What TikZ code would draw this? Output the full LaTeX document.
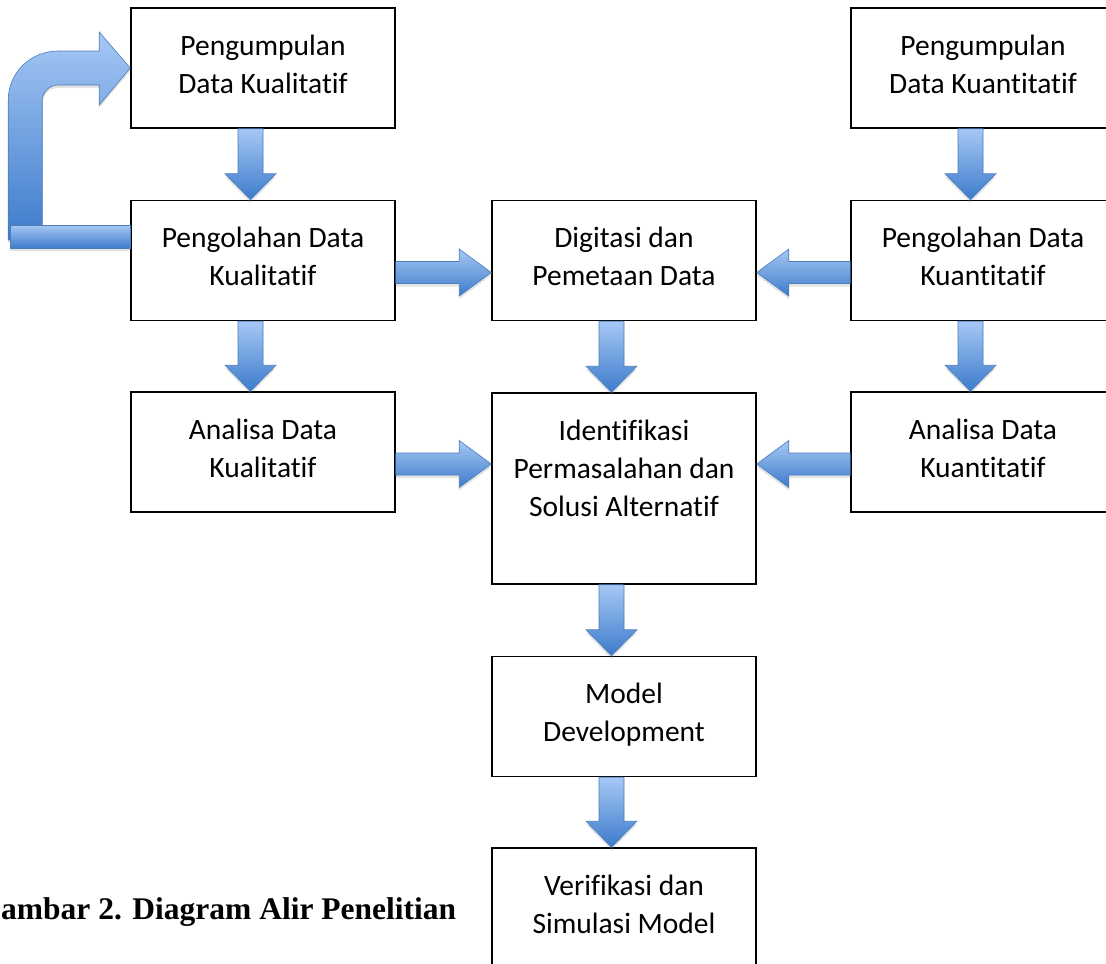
\documentclass[tikz,border=0pt]{standalone}
\usepackage{fontspec}
\setmainfont{Carlito}[Ligatures={NoCommon,NoRequired,NoContextual}]
\newfontfamily\capfont{Liberation Serif}
\usetikzlibrary{calc,shadows}
\definecolor{arlight}{HTML}{A6C8F5}
\definecolor{ardark}{HTML}{3D7BCB}
\definecolor{arline}{HTML}{4A7EBB}
\tikzset{
  box/.style={draw=black, line width=1.5pt, minimum width=264pt, minimum height=120pt, inner sep=0pt},
  lbl/.style={anchor=north, align=center, inner sep=0pt, font=\fontsize{29.5}{38}\selectfont},
  blockarrow/.style={draw=arline, line width=0.6pt, top color=arlight, bottom color=ardark,
     drop shadow={opacity=0.22, shadow xshift=0pt, shadow yshift=-3pt}},
  captxt/.style={anchor=base west, inner sep=0pt, font=\capfont\bfseries\fontsize{31.5}{36}\selectfont}
}
\newcommand\downarr[2]{%
 \path[blockarrow] let \p1=(#1.south), \p2=(#2.north) in
 (\x1-25pt,\y1) -- (\x1,\y1) -- (\x1,\y2+26pt) -- (\x1+13pt,\y2+26pt) -- (\x1-12.5pt,\y2)
 -- (\x1-38pt,\y2+26pt) -- (\x1-25pt,\y2+26pt) -- cycle;}
\newcommand\rightarr[2]{%
 \path[blockarrow] let \p1=(#1.east), \p2=(#2.west) in
 (\x1,\y1-1pt) -- (\x2-32pt,\y1-1pt) -- (\x2-32pt,\y1+11.5pt) -- (\x2,\y1-12pt)
 -- (\x2-32pt,\y1-35.5pt) -- (\x2-32pt,\y1-23pt) -- (\x1,\y1-23pt) -- cycle;}
\newcommand\leftarr[2]{%
 \path[blockarrow] let \p1=(#1.west), \p2=(#2.east) in
 (\x1,\y1-1pt) -- (\x2+32pt,\y1-1pt) -- (\x2+32pt,\y1+11.5pt) -- (\x2,\y1-12pt)
 -- (\x2+32pt,\y1-35.5pt) -- (\x2+32pt,\y1-23pt) -- (\x1,\y1-23pt) -- cycle;}
\begin{document}
\begin{tikzpicture}[x=1pt,y=-1pt]
\useasboundingbox (0,0) rectangle (1106,964);
\fill[white] (0,0) rectangle (1106,964);
\clip (0,0) rectangle (1106,964);

% boxes
\node[box] (b1) at (263,68) {};
\node[box] (b2) at (983,68) {};
\node[box] (b3) at (263,260.5) {};
\node[box] (b4) at (624,260.5) {};
\node[box] (b5) at (983,260.5) {};
\node[box] (b6) at (263,452) {};
\node[box, minimum height=191pt] (b7) at (624,488.5) {};
\node[box] (b8) at (983,452) {};
\node[box] (b9) at (624,716.5) {};
\node[box] (b10) at (624,908) {};

% labels
\node[lbl] (t1) at ([yshift=-21.4pt]b1.north) {\strut Pengumpulan\\Data Kualitatif};
\node[lbl] (t2) at ([yshift=-21.4pt]b2.north) {\strut Pengumpulan\\Data Kuantitatif};
\node[lbl] (t3) at ([yshift=-21.4pt]b3.north) {\strut Pengolahan Data\\Kualitatif};
\node[lbl] (t4) at ([yshift=-21.4pt]b4.north) {\strut Digitasi dan\\Pemetaan Data};
\node[lbl] (t5) at ([yshift=-21.4pt]b5.north) {\strut Pengolahan Data\\Kuantitatif};
\node[lbl] (t6) at ([yshift=-21.4pt]b6.north) {\strut Analisa Data\\Kualitatif};
\node[lbl] (t7) at ([yshift=-21.4pt]b7.north) {\strut Identifikasi\\Permasalahan dan\\Solusi Alternatif};
\node[lbl] (t8) at ([yshift=-21.4pt]b8.north) {\strut Analisa Data\\Kuantitatif};
\node[lbl] (t9) at ([yshift=-21.4pt]b9.north) {\strut Model\\Development};
\node[lbl] (t10) at ([yshift=-21.4pt]b10.north) {\strut Verifikasi dan\\Simulasi Model};

% caption
\node[captxt] (cap) at (1,919) {ambar 2. Diagram Alir Penelitian};

% arrows
\downarr{b1}{b3}
\downarr{b2}{b5}
\downarr{b3}{b6}
\downarr{b4}{b7}
\downarr{b5}{b8}
\downarr{b7}{b9}
\downarr{b9}{b10}
\rightarr{b3}{b4}
\rightarr{b6}{b7}
\leftarr{b5}{b4}
\leftarr{b8}{b7}

% bent loop arrow from b3 back to b1
\begin{scope}[shift={(b1.west)}]
\path[blockarrow] (-122,172) -- (-122,32) .. controls (-122,4.4) and (-99.6,-17) .. (-72,-17)
  -- (-31,-17) -- (-31,-36) -- (0,0) -- (-31,37) -- (-31,17) -- (-72,17)
  .. controls (-80.8,17) and (-88,24.2) .. (-88,33) -- (-88,172) -- cycle;
\end{scope}
\begin{scope}[shift={(b3.west)}]
\path[blockarrow] (-120,-35.5) rectangle (0,-12.5);
\end{scope}
\end{tikzpicture}
\end{document}
